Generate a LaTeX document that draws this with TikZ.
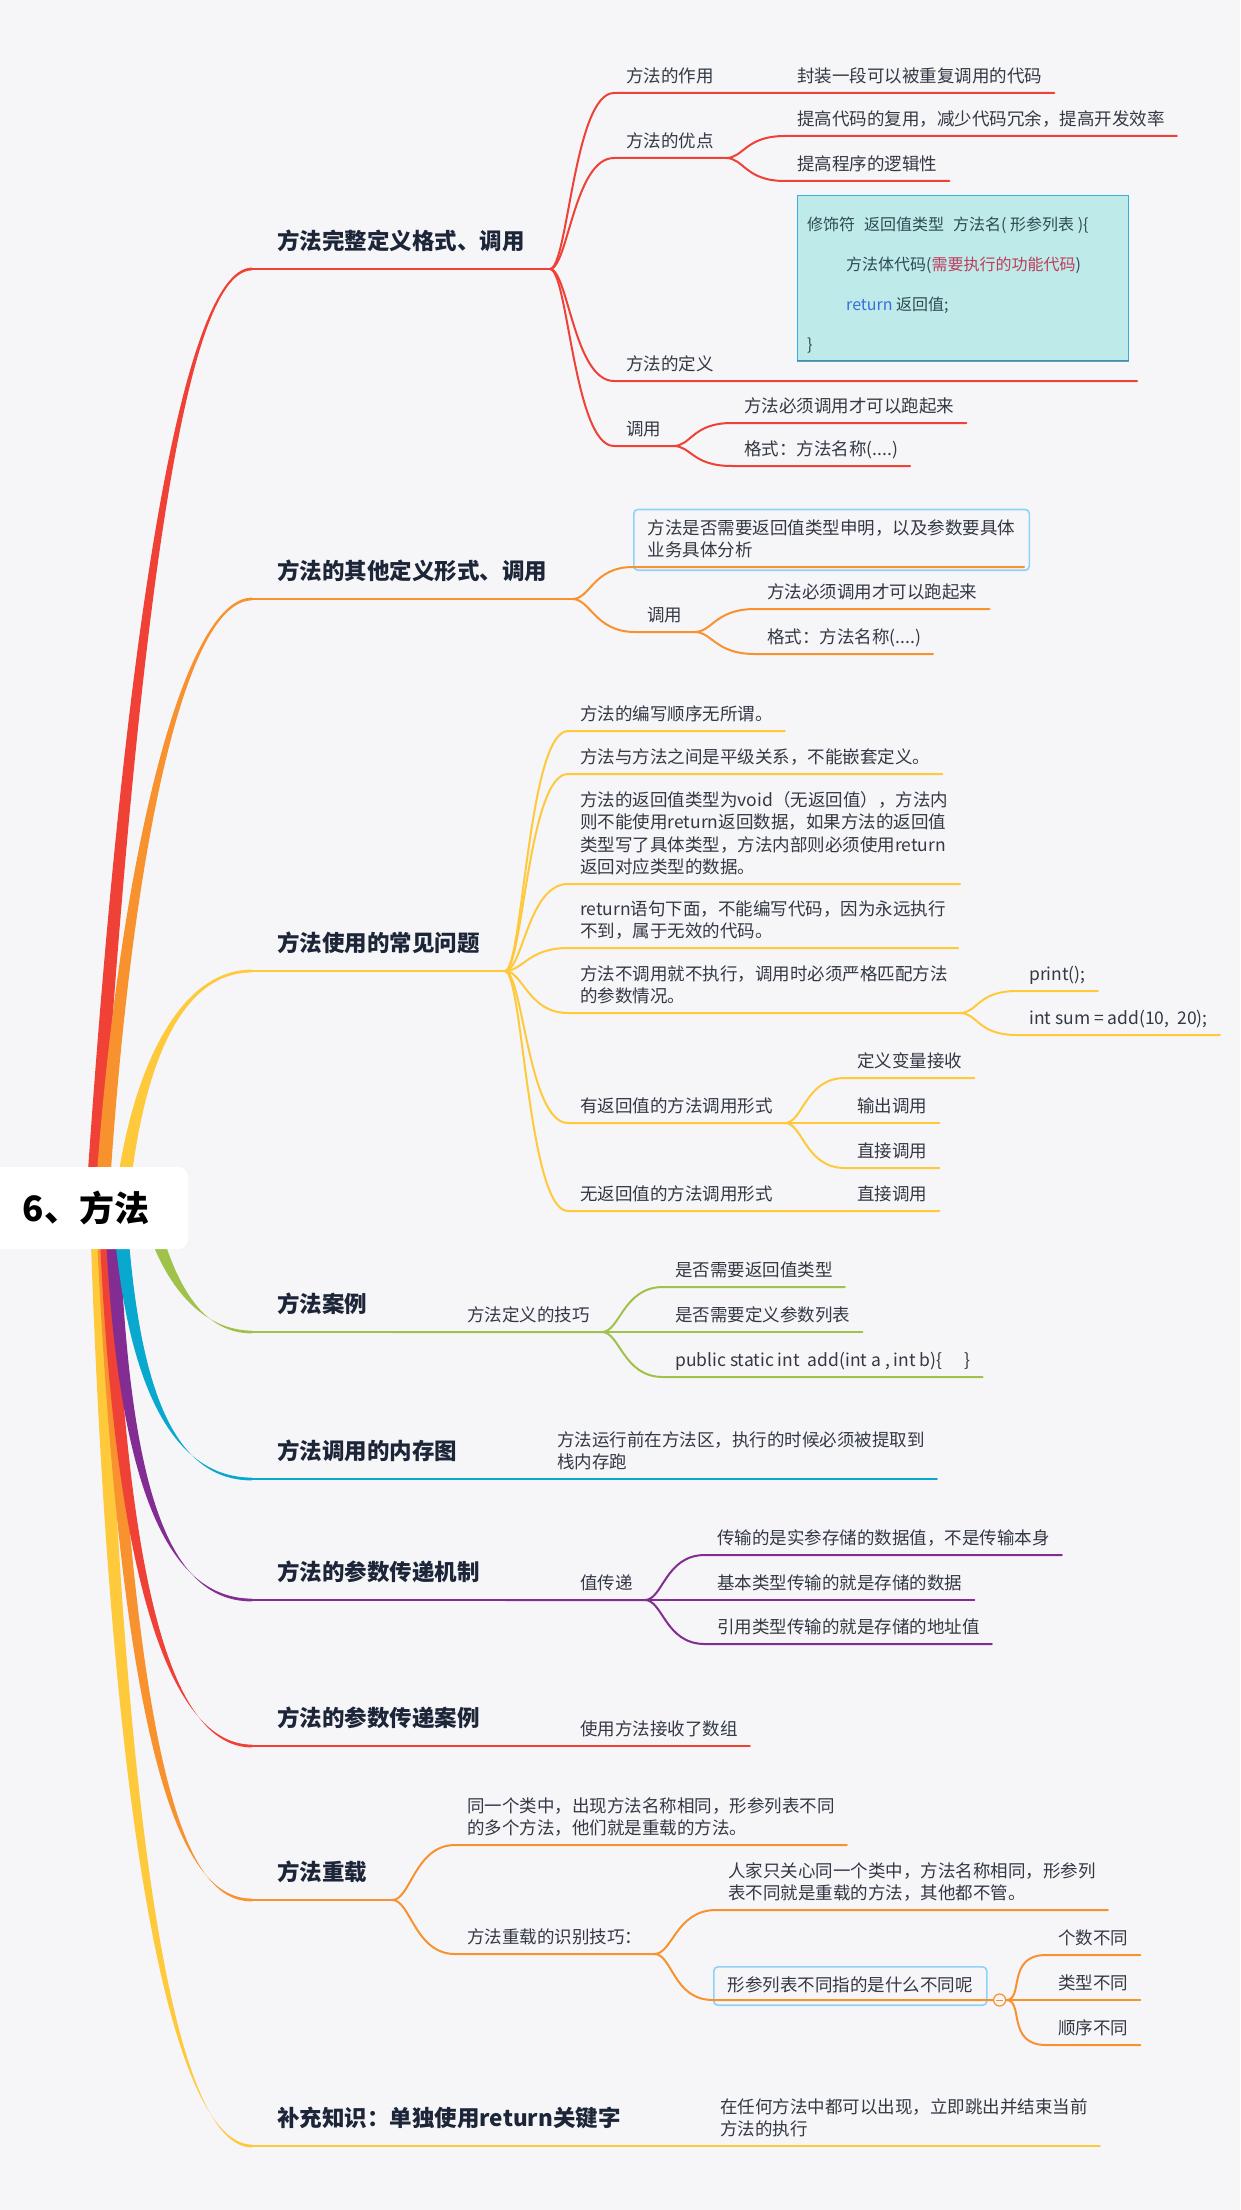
\documentclass[tikz,border=0pt]{standalone}
\usepackage{fontspec}
\setmainfont{Noto Sans CJK SC}
\usepackage{tikz}
\usetikzlibrary{calc}
\definecolor{bg}{HTML}{F6F6F9}
\definecolor{ink}{HTML}{1C2638}
\definecolor{txt}{HTML}{333843}
\definecolor{cRed}{HTML}{EF4136}
\definecolor{cOrange}{HTML}{F7922F}
\definecolor{cYellow}{HTML}{FFC93C}
\definecolor{cGreen}{HTML}{A0C14A}
\definecolor{cCyan}{HTML}{08A8CF}
\definecolor{cPurple}{HTML}{832C91}
\definecolor{sky}{HTML}{8ED3F7}
\definecolor{codebg}{HTML}{BFEAEA}
\definecolor{codeline}{HTML}{3AACE0}
\definecolor{codeink}{HTML}{2E4A52}
\definecolor{codered}{HTML}{BE3B5A}
\definecolor{codeblue}{HTML}{3A6FD8}
\pgfdeclarelayer{paper}
\pgfdeclarelayer{trunks}
\pgfsetlayers{paper,trunks,main}

% tapered main branch: colour, start offset from root, control 1, control 2, heading node
\newcommand{\trunk}[5]{%
  \fill[#1] ($(root.center)+(#2)+(-7,0)$) .. controls ($(#3)+(-6,0)$) and ($(#4)+(0,-1.4)$) .. ([yshift=1.4pt]#5.south west)
    -- ([yshift=-1.4pt]#5.south west) .. controls ($(#4)+(0,1.4)$) and ($(#3)+(6,0)$) .. ($(root.center)+(#2)+(7,0)$) -- cycle;}

\begin{document}
\begin{tikzpicture}[x=1pt, y=-1pt,
  rootbox/.style={fill=white, rounded corners=10pt, minimum width=204pt, minimum height=82pt, font=\fontsize{35}{40}\selectfont\bfseries, text=black},
  head/.style={anchor=south west, font=\fontsize{22.5}{27}\selectfont\bfseries, text=ink, inner xsep=25pt, inner ysep=15.6pt, text depth=4pt},
  leaf/.style={anchor=south west, font=\fontsize{17.5}{22.4}\selectfont, text=txt, inner xsep=12pt, inner ysep=6.9pt, text depth=3.5pt, align=left},
  notebox/.style={leaf, draw=sky, line width=1.6pt, rounded corners=4pt, inner xsep=14pt, inner ysep=10pt},
  codebox/.style={anchor=north west, fill=codebg, draw=codeline, line width=1.2pt, minimum width=331pt, minimum height=166pt},
  codetext/.style={anchor=north west, inner sep=0pt, font=\fontsize{16}{40}\selectfont, text=codeink, align=left},
  foldmark/.style={circle, draw=cOrange, fill=bg, line width=1.2pt, minimum size=12pt, inner sep=0pt,
    path picture={\draw[cOrange, line width=1pt] ([xshift=-3.5pt]path picture bounding box.center) -- ([xshift=3.5pt]path picture bounding box.center);}},
  ul/.style={line width=2pt, line cap=round},
  hl/.style={line width=2.6pt, line cap=round},
  twig/.style={to path={.. controls +(18,0) and +(-40,0) .. (\tikztotarget)}}]
\useasboundingbox (0,0) rectangle (1240,2210);
\begin{pgfonlayer}{paper}
  \fill[bg] (0,0) rectangle (1240,2210);
\end{pgfonlayer}

\node[rootbox] (root) at (86,1208) {6、方法};

% headings
\node[head] (full) at (252,269) {方法完整定义格式、调用};
\node[head] (other) at (252,599) {方法的其他定义形式、调用};
\node[head] (issues) at (252,971) {方法使用的常见问题};
\node[head] (sample) at (252,1332) {方法案例};
\node[head] (memory) at (252,1479) {方法调用的内存图};
\node[head] (passing) at (252,1600) {方法的参数传递机制};
\node[head] (passcase) at (252,1746) {方法的参数传递案例};
\node[head] (overload) at (252,1900) {方法重载};
\node[head] (extra) at (252,2146) {补充知识：单独使用return关键字};

\begin{pgfonlayer}{trunks}
  \trunk{cRed}{7,-8}{135,560}{190,269}{full}
  \trunk{cOrange}{16,-8}{125,850}{185,599}{other}
  \trunk{cYellow}{36,-8}{135,1080}{175,971}{issues}
  \trunk{cYellow}{11,7}{120,1950}{190,2146}{extra}
  \trunk{cOrange}{17,7}{128,1800}{190,1900}{overload}
  \trunk{cRed}{20,7}{120,1600}{175,1746}{passcase}
  \trunk{cPurple}{26,7}{122,1480}{165,1600}{passing}
  \trunk{cCyan}{34,7}{132,1380}{170,1479}{memory}
  \trunk{cGreen}{64,7}{170,1290}{205,1332}{sample}
\end{pgfonlayer}

% complete definition
\node[leaf] (role) at (614,93) {方法的作用};
\node[leaf] (wrap) at (785,93) {封装一段可以被重复调用的代码};
\node[leaf] (merit) at (614,158) {方法的优点};
\node[leaf] (reuse) at (785,136) {提高代码的复用，减少代码冗余，提高开发效率};
\node[leaf] (logic) at (785,181) {提高程序的逻辑性};
\node[codebox] (code) at (797,195) {};
\node[codetext] (codetxt) at ([xshift=10pt,yshift=-22pt]code.north west) {修饰符\hspace{9pt}返回值类型\hspace{9pt}方法名( 形参列表 )\{\\
  \hspace*{39pt}方法体代码(\textcolor{codered}{需要执行的功能代码})\\
  \hspace*{39pt}\textcolor{codeblue}{return} 返回值;\\
  \}};
\node[leaf] (define) at (614,381) {方法的定义};
\coordinate (defend) at (1137,381);
\node[leaf] (call) at (614,446) {调用};
\node[leaf] (mustcall) at (732,423) {方法必须调用才可以跑起来};
\node[leaf] (syntax) at (732,466) {格式：方法名称(....)};

% other forms
\node[notebox] (hint) at (633,571) {方法是否需要返回值类型申明，以及参数要具体\\业务具体分析};
\node[leaf] (call2) at (635,632) {调用};
\node[leaf] (mustcall2) at (755,609) {方法必须调用才可以跑起来};
\node[leaf] (syntax2) at (755,654) {格式：方法名称(....)};

% common issues
\node[leaf] (order) at (568,731) {方法的编写顺序无所谓。};
\node[leaf] (nesting) at (568,774) {方法与方法之间是平级关系，不能嵌套定义。};
\node[leaf] (voidret) at (568,884) {方法的返回值类型为void（无返回值），方法内\\则不能使用return返回数据，如果方法的返回值\\类型写了具体类型，方法内部则必须使用return\\返回对应类型的数据。};
\node[leaf] (deadcode) at (568,948) {return语句下面，不能编写代码，因为永远执行\\不到，属于无效的代码。};
\node[leaf] (match) at (568,1013) {方法不调用就不执行，调用时必须严格匹配方法\\的参数情况。};
\node[leaf] (printcall) at (1017,991) {print();};
\node[leaf] (sumcall) at (1017,1035) {int sum = add(10,\ \ 20);};
\node[leaf] (retform) at (568,1123) {有返回值的方法调用形式};
\node[leaf] (assign) at (845,1078) {定义变量接收};
\node[leaf] (output) at (845,1123) {输出调用};
\node[leaf] (direct) at (845,1168) {直接调用};
\node[leaf] (voidform) at (568,1211) {无返回值的方法调用形式};
\node[leaf] (direct2) at (845,1211) {直接调用};

% case
\node[leaf] (tips) at (455,1332) {方法定义的技巧};
\node[leaf] (tipret) at (663,1287) {是否需要返回值类型};
\node[leaf] (tipparam) at (663,1332) {是否需要定义参数列表};
\node[leaf] (tipsig) at (663,1377) {public static int\ \ add(int a , int b)\{\hspace{22pt}\}};

% memory
\node[leaf] (memnote) at (545,1479) {方法运行前在方法区，执行的时候必须被提取到\\栈内存跑};

% passing
\node[leaf] (byvalue) at (568,1600) {值传递};
\node[leaf] (actual) at (705,1555) {传输的是实参存储的数据值，不是传输本身};
\node[leaf] (primitive) at (705,1600) {基本类型传输的就是存储的数据};
\node[leaf] (reference) at (705,1644) {引用类型传输的就是存储的地址值};
\node[leaf] (arraycase) at (568,1746) {使用方法接收了数组};

% overload
\node[leaf] (samename) at (455,1845) {同一个类中，出现方法名称相同，形参列表不同\\的多个方法，他们就是重载的方法。};
\node[leaf] (spot) at (455,1954) {方法重载的识别技巧：};
\node[leaf] (onlycare) at (716,1910) {人家只关心同一个类中，方法名称相同，形参列\\表不同就是重载的方法，其他都不管。};
\node[notebox] (listq) at (713,2006) {形参列表不同指的是什么不同呢};
\node[foldmark] (fold) at ([xshift=12pt,yshift=6pt]listq.south east) {};
\node[leaf] (count) at (1046,1955) {个数不同};
\node[leaf] (kind) at (1046,2000) {类型不同};
\node[leaf] (seq) at (1046,2045) {顺序不同};

% return
\node[leaf] (retnote) at (708,2146) {在任何方法中都可以出现，立即跳出并结束当前\\方法的执行};

% lines
\draw[hl, cRed] (full.south west) -- (full.south east);
\draw[ul, cRed] (full.south east) to[twig] (role.south west) -- (role.south east) to[twig] (wrap.south west) -- (wrap.south east);
\draw[ul, cRed] (full.south east) to[twig] (merit.south west) -- (merit.south east) to[twig] (reuse.south west) -- (reuse.south east);
\draw[ul, cRed] (merit.south east) to[twig] (logic.south west) -- (logic.south east);
\draw[codeink!70, line width=1pt] ([yshift=2pt]code.south west) -- ([yshift=2pt]code.south east);
\draw[ul, cRed] (full.south east) to[twig] (define.south west) -- (define.south west -| defend);
\draw[ul, cRed] (full.south east) to[twig] (call.south west) -- (call.south east) to[twig] (mustcall.south west) -- (mustcall.south east);
\draw[ul, cRed] (call.south east) to[twig] (syntax.south west) -- (syntax.south east);

\draw[hl, cOrange] (other.south west) -- (other.south east);
\draw[ul, cOrange] (other.south east) to[twig] ([yshift=4pt]hint.south west) -- ([xshift=-6pt,yshift=4pt]hint.south east);
\draw[ul, cOrange] (other.south east) to[twig] (call2.south west) -- (call2.south east) to[twig] (mustcall2.south west) -- (mustcall2.south east);
\draw[ul, cOrange] (call2.south east) to[twig] (syntax2.south west) -- (syntax2.south east);

\draw[hl, cYellow] (issues.south west) -- (issues.south east);
\draw[ul, cYellow] (issues.south east) to[twig] (order.south west) -- (order.south east);
\draw[ul, cYellow] (issues.south east) to[twig] (nesting.south west) -- (nesting.south east);
\draw[ul, cYellow] (issues.south east) to[twig] (voidret.south west) -- (voidret.south east);
\draw[ul, cYellow] (issues.south east) to[twig] (deadcode.south west) -- (deadcode.south east);
\draw[ul, cYellow] (issues.south east) to[twig] (match.south west) -- (match.south east) to[twig] (printcall.south west) -- (printcall.south east);
\draw[ul, cYellow] (match.south east) to[twig] (sumcall.south west) -- (sumcall.south east);
\draw[ul, cYellow] (issues.south east) to[twig] (retform.south west) -- (retform.south east) to[twig] (assign.south west) -- (assign.south east);
\draw[ul, cYellow] (retform.south east) to[twig] (output.south west) -- (output.south east);
\draw[ul, cYellow] (retform.south east) to[twig] (direct.south west) -- (direct.south east);
\draw[ul, cYellow] (issues.south east) to[twig] (voidform.south west) -- (voidform.south east) to[twig] (direct2.south west) -- (direct2.south east);

\draw[hl, cGreen] (sample.south west) -- (sample.south east);
\draw[ul, cGreen] (sample.south east) to[twig] (tips.south west) -- (tips.south east) to[twig] (tipret.south west) -- (tipret.south east);
\draw[ul, cGreen] (tips.south east) to[twig] (tipparam.south west) -- (tipparam.south east);
\draw[ul, cGreen] (tips.south east) to[twig] (tipsig.south west) -- (tipsig.south east);

\draw[hl, cCyan] (memory.south west) -- (memory.south east);
\draw[ul, cCyan] (memory.south east) to[twig] (memnote.south west) -- (memnote.south east);

\draw[hl, cPurple] (passing.south west) -- (passing.south east);
\draw[ul, cPurple] (passing.south east) to[twig] (byvalue.south west) -- (byvalue.south east) to[twig] (actual.south west) -- (actual.south east);
\draw[ul, cPurple] (byvalue.south east) to[twig] (primitive.south west) -- (primitive.south east);
\draw[ul, cPurple] (byvalue.south east) to[twig] (reference.south west) -- (reference.south east);

\draw[hl, cRed] (passcase.south west) -- (passcase.south east);
\draw[ul, cRed] (passcase.south east) to[twig] (arraycase.south west) -- (arraycase.south east);

\draw[hl, cOrange] (overload.south west) -- (overload.south east);
\draw[ul, cOrange] (overload.south east) to[twig] (samename.south west) -- (samename.south east);
\draw[ul, cOrange] (overload.south east) to[twig] (spot.south west) -- (spot.south east) to[twig] (onlycare.south west) -- (onlycare.south east);
\draw[ul, cOrange] (spot.south east) to[twig] ([yshift=6pt]listq.south west) -- (fold.west);
\draw[ul, cOrange] (fold.east) to[twig] (count.south west) -- (count.south east);
\draw[ul, cOrange] (fold.east) to[twig] (kind.south west) -- (kind.south east);
\draw[ul, cOrange] (fold.east) to[twig] (seq.south west) -- (seq.south east);

\draw[hl, cYellow] (extra.south west) -- (extra.south east);
\draw[ul, cYellow] (extra.south east) to[twig] (retnote.south west) -- (retnote.south east);
\end{tikzpicture}
\end{document}
